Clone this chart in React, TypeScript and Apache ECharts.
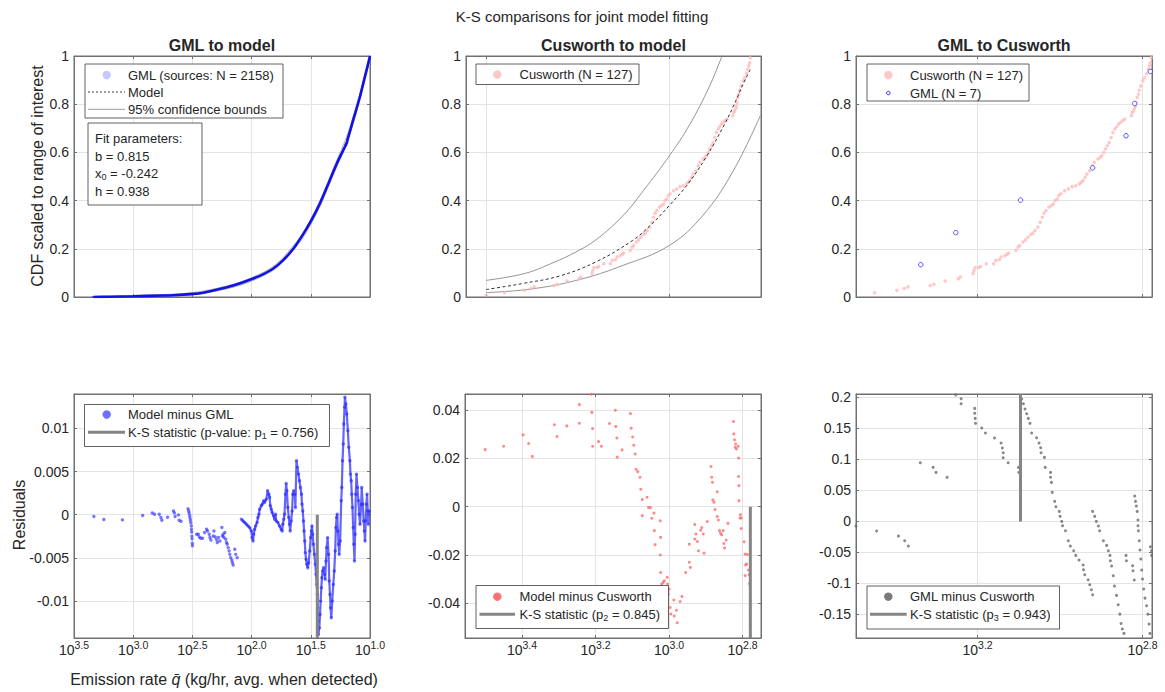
import React, { useEffect, useRef } from 'react';
import * as echarts from 'echarts';

const FONT = '"Liberation Sans", Arial, Helvetica, sans-serif';
const TXT = '#262626';
const AXIS_C = '#707070';
const GRID_C = '#e4e4e4';

// ---------- axis ranges and ticks (log10 of emission rate, reversed axes) ----------
const xRangeCol = [[1.0, 3.5], [2.75, 3.555], [2.777, 3.495]];
const xTicksTop = [[1.0, 1.5, 2.0, 2.5, 3.0, 3.5], [3.0, 3.5], [2.8, 3.2]];
const xTicksBottom = [[1.0, 1.5, 2.0, 2.5, 3.0, 3.5], [2.8, 3.0, 3.2, 3.4], [2.8, 3.2]];
const yRanges = [[0, 1], [0, 1], [0, 1], [-0.0143, 0.014], [-0.0543, 0.0466], [-0.188, 0.2054]];
const yTicks = [
  [0, 0.2, 0.4, 0.6, 0.8, 1],
  [0, 0.2, 0.4, 0.6, 0.8, 1],
  [0, 0.2, 0.4, 0.6, 0.8, 1],
  [-0.01, -0.005, 0, 0.005, 0.01],
  [-0.04, -0.02, 0, 0.02, 0.04],
  [-0.15, -0.1, -0.05, 0, 0.05, 0.1, 0.15, 0.2],
];

// ---------- Panel 1: GML to model ----------
const gmlCdf = [[3.337, 0.0], [3.2, 0.001], [3.0, 0.003], [2.75, 0.006], [2.661, 0.007], [2.49, 0.013], [2.408, 0.018], [2.323, 0.027], [2.155, 0.048], [1.986, 0.077], [1.9, 0.095], [1.817, 0.118], [1.733, 0.153], [1.648, 0.2], [1.563, 0.262], [1.493, 0.32], [1.422, 0.389], [1.352, 0.47], [1.281, 0.553], [1.22, 0.615], [1.197, 0.638], [1.185, 0.66], [1.141, 0.736], [1.084, 0.833], [1.042, 0.917], [1.0, 1.0]];
const model1 = [[3.35, 0.0005], [3.0, 0.003], [2.5, 0.013], [2.2, 0.041], [2.0, 0.073], [1.8, 0.125], [1.6, 0.232], [1.5, 0.313], [1.4, 0.412], [1.3, 0.532], [1.2, 0.648], [1.1, 0.805], [1.0, 0.99]];
const upper1 = [[3.35, 0.002], [3.0, 0.006], [2.5, 0.018], [2.2, 0.047], [2.0, 0.08], [1.8, 0.133], [1.6, 0.242], [1.5, 0.324], [1.4, 0.424], [1.3, 0.545], [1.2, 0.662], [1.1, 0.818], [1.0, 1.0]];
const lower1 = [[3.35, 0.0], [3.0, 0.001], [2.5, 0.009], [2.2, 0.035], [2.0, 0.066], [1.8, 0.117], [1.6, 0.222], [1.5, 0.302], [1.4, 0.4], [1.3, 0.519], [1.2, 0.634], [1.1, 0.792], [1.0, 0.98]];

// ---------- Panel 2: Cusworth to model ----------
const model2 = [[3.5, 0.031], [3.45, 0.043], [3.4, 0.056], [3.3, 0.087], [3.2, 0.146], [3.1, 0.235], [3.05, 0.3], [3.0, 0.38], [2.95, 0.468], [2.9, 0.58], [2.85, 0.715], [2.82, 0.81], [2.8, 0.88], [2.779, 0.945]];
const upper2 = [[3.5, 0.069], [3.396, 0.097], [3.324, 0.138], [3.251, 0.19], [3.197, 0.241], [3.125, 0.34], [3.071, 0.441], [3.0, 0.586], [2.944, 0.717], [2.89, 0.876], [2.858, 0.993], [2.853, 1.01]];
const lower2 = [[3.5, 0.018], [3.378, 0.033], [3.251, 0.07], [3.125, 0.132], [3.0, 0.214], [2.908, 0.34], [2.827, 0.52], [2.752, 0.752]];
const cusworthCdf = [[3.5, 0.007], [3.45, 0.018], [3.396, 0.028], [3.378, 0.035], [3.369, 0.042], [3.315, 0.048], [3.306, 0.053], [3.279, 0.066], [3.247, 0.076], [3.242, 0.083], [3.211, 0.097], [3.209, 0.11], [3.206, 0.122], [3.197, 0.122], [3.193, 0.127], [3.179, 0.138], [3.161, 0.138], [3.156, 0.152], [3.147, 0.155], [3.143, 0.166], [3.134, 0.171], [3.129, 0.177], [3.125, 0.182], [3.107, 0.193], [3.102, 0.207], [3.098, 0.214], [3.09, 0.228], [3.084, 0.237], [3.078, 0.248], [3.071, 0.259], [3.066, 0.265], [3.061, 0.276], [3.054, 0.29], [3.048, 0.31], [3.043, 0.331], [3.039, 0.348], [3.034, 0.359], [3.027, 0.373], [3.021, 0.38], [3.016, 0.386], [3.012, 0.4], [3.007, 0.407], [3.003, 0.421], [2.998, 0.428], [2.989, 0.441], [2.98, 0.448], [2.971, 0.458], [2.962, 0.462], [2.953, 0.469], [2.949, 0.476], [2.944, 0.483], [2.939, 0.497], [2.935, 0.51], [2.928, 0.524], [2.921, 0.545], [2.917, 0.559], [2.908, 0.573], [2.903, 0.579], [2.899, 0.586], [2.894, 0.6], [2.89, 0.614], [2.885, 0.628], [2.881, 0.641], [2.876, 0.662], [2.872, 0.683], [2.867, 0.697], [2.863, 0.706], [2.858, 0.717], [2.854, 0.724], [2.849, 0.731], [2.843, 0.738], [2.827, 0.752], [2.825, 0.766], [2.822, 0.772], [2.819, 0.783], [2.817, 0.793], [2.816, 0.807], [2.813, 0.828], [2.81, 0.841], [2.808, 0.858], [2.804, 0.876], [2.799, 0.897], [2.795, 0.91], [2.79, 0.927], [2.786, 0.945], [2.783, 0.959], [2.781, 0.972], [2.779, 0.993]];

// ---------- Panel 3: GML to Cusworth ----------
const gml7Cdf = [[3.338, 0.134], [3.253, 0.267], [3.096, 0.402], [2.921, 0.536], [2.84, 0.669], [2.819, 0.803], [2.781, 0.936]];

// ---------- Panel 4: Model minus GML ----------
const residModelGml = [[3.332, -0.00021], [3.248, -0.00056], [3.091, -0.0006], [2.92, -0.0001], [2.839, 0.0002], [2.82, 0.00006], [2.78, 0.00006], [2.766, -0.00033], [2.758, -0.00064], [2.71, -0.00029], [2.66, 0.00044], [2.652, 0.00021], [2.646, -0.00021], [2.618, -0.00002], [2.612, -0.00064], [2.596, -0.00076], [2.537, 0.00068], [2.531, 0.00044], [2.528, 0.00021], [2.523, -0.0001], [2.52, -0.00037], [2.517, -0.00064], [2.514, -0.00095], [2.509, -0.0013], [2.508, -0.0017], [2.506, -0.002], [2.504, -0.0025], [2.503, -0.0028], [2.501, -0.0033], [2.5, -0.0036],
  [2.464, -0.00227], [2.45, -0.00227], [2.442, -0.00258], [2.43, -0.00273], [2.414, -0.00273], [2.397, -0.00207], [2.38, -0.00169], [2.372, -0.00188], [2.358, -0.00227], [2.352, -0.00265], [2.344, -0.00293], [2.324, -0.00247], [2.318, -0.00188], [2.307, -0.00258], [2.296, -0.00289], [2.29, -0.00323], [2.279, -0.00265], [2.268, -0.00305], [2.251, -0.00149], [2.246, -0.00247], [2.24, -0.00227], [2.234, -0.00265], [2.226, -0.00207], [2.218, -0.00285], [2.212, -0.00323], [2.206, -0.00343], [2.198, -0.00382], [2.19, -0.00421], [2.184, -0.0046], [2.176, -0.00498], [2.167, -0.00529], [2.162, -0.00556], [2.156, -0.00584], [2.142, -0.00401], [2.134, -0.0046], [2.122, -0.00498],
  [2.086, -0.00052], [2.072, -0.00072], [2.058, -0.00091], [2.044, -0.00111], [2.03, -0.0013], [2.016, -0.0015], [2.002, -0.00189], [1.996, -0.00266], [1.988, -0.00305], [1.982, -0.00227], [1.974, -0.00169], [1.966, -0.0013], [1.954, -0.00091], [1.946, -0.00033], [1.938, 0.00006], [1.932, 0.00064], [1.918, 0.00103], [1.91, 0.00122], [1.898, 0.00161], [1.89, 0.00141], [1.876, 0.0018], [1.865, 0.00277], [1.854, 0.00238], [1.848, 0.002], [1.842, 0.00103], [1.834, 0.00064], [1.826, 0.00025], [1.814, -0.00014], [1.806, -0.00052], [1.798, 0.00006], [1.792, -0.00072], [1.778, -0.00091], [1.764, -0.0013], [1.75, -0.00169], [1.742, -0.00189], [1.736, -0.00111], [1.728, -0.00052], [1.722, 0.00006], [1.714, 0.00238], [1.708, 0.00362], [1.702, 0.00277], [1.694, 0.00083], [1.686, -0.00033], [1.68, -0.00111], [1.674, -0.00189], [1.666, -0.00072], [1.658, 0.00044], [1.652, 0.00238], [1.644, 0.00277], [1.635, 0.00238], [1.63, 0.00083], [1.621, 0.00626], [1.613, 0.00549], [1.604, 0.00471], [1.596, 0.00393], [1.588, 0.00316], [1.579, 0.00238], [1.574, 0.00122], [1.568, 0.00044], [1.562, -0.00072], [1.557, -0.00189], [1.551, -0.00305], [1.546, -0.0044], [1.54, -0.00518], [1.534, -0.00576], [1.526, -0.00615], [1.518, -0.00557], [1.509, -0.00421], [1.501, -0.00266], [1.495, -0.00189], [1.49, -0.0013], [1.484, -0.00227], [1.478, -0.00343], [1.47, -0.0046], [1.462, -0.00576], [1.456, -0.00692], [1.45, -0.00809], [1.445, -0.00925], [1.442, -0.0108], [1.439, -0.01235], [1.436, -0.0139], [1.428, -0.01313], [1.422, -0.01158], [1.417, -0.01002], [1.411, -0.00847], [1.406, -0.00731], [1.4, -0.00653], [1.392, -0.00615], [1.383, -0.00692], [1.378, -0.0075], [1.372, -0.00537], [1.366, -0.00382], [1.358, -0.00266], [1.35, -0.0046], [1.344, -0.0077], [1.338, -0.00925], [1.333, -0.0108], [1.327, -0.01196], [1.319, -0.01002], [1.31, -0.00809], [1.302, -0.00653], [1.294, -0.00421], [1.288, -0.0015], [1.282, -0.00033], [1.277, 0.00006], [1.271, -0.00189], [1.266, -0.00343], [1.26, -0.0046], [1.252, -0.00305], [1.243, 0.00161], [1.238, 0.00316], [1.232, 0.00626], [1.226, 0.0082], [1.221, 0.01052], [1.215, 0.01246], [1.212, 0.01363], [1.204, 0.01285], [1.196, 0.01169], [1.187, 0.00975], [1.179, 0.00781], [1.17, 0.00626], [1.165, 0.00471], [1.159, 0.00393], [1.154, 0.00238], [1.148, 0.00083], [1.142, -0.0015], [1.137, -0.00343], [1.131, -0.00537], [1.126, -0.00227], [1.12, 0.00238], [1.114, 0.00471], [1.106, 0.00316], [1.098, 0.00161], [1.092, 0.00006], [1.084, -0.00111], [1.075, 0.00122], [1.07, 0.00316], [1.061, 0.00122], [1.053, -0.00072], [1.047, -0.00189], [1.042, -0.00305], [1.036, -0.00072], [1.03, 0.00122], [1.025, 0.00238], [1.019, 0.00044], [1.014, -0.00111], [1.008, 0.00044]];
const ks1 = [[1.445, 0], [1.445, -0.0143]];

// ---------- Panel 5: Model minus Cusworth ----------
const residModelCus = [[3.5, 0.0236], [3.45, 0.025], [3.397, 0.0297], [3.382, 0.0261], [3.372, 0.0208], [3.312, 0.0339], [3.305, 0.029], [3.278, 0.0334], [3.244, 0.0422], [3.244, 0.0345], [3.211, 0.0465], [3.21, 0.039], [3.208, 0.0323], [3.208, 0.025], [3.192, 0.0269], [3.184, 0.025], [3.162, 0.0344],
  [3.146, 0.0399], [3.145, 0.0332], [3.142, 0.0284], [3.141, 0.0205], [3.128, 0.0235], [3.105, 0.0385], [3.103, 0.0324], [3.099, 0.0288], [3.096, 0.0254], [3.092, 0.0218], [3.09, 0.0155], [3.085, 0.0145], [3.079, 0.0122], [3.077, 0.0072], [3.073, 0.003], [3.073, -0.0037], [3.06, 0.0039], [3.056, -0.0003], [3.051, -0.0003], [3.047, -0.0048], [3.041, -0.0026], [3.04, -0.0099], [3.038, -0.0157], [3.024, -0.0058], [3.023, -0.0127], [3.024, -0.02], [3.023, -0.0272], [3.02, -0.032], [3.016, -0.0313], [3.013, -0.0306], [3.005, -0.0292], [3.004, -0.032], [3.0, -0.0341], [3.002, -0.0361], [2.997, -0.0417], [2.995, -0.0444], [2.987, -0.0386], [2.986, -0.0452], [2.98, -0.0428], [2.978, -0.048], [2.97, -0.0392], [2.965, -0.0371], [2.955, -0.0272], [2.945, -0.023], [2.942, -0.0251], [2.945, -0.0155], [2.93, -0.0134], [2.93, -0.0074], [2.927, -0.0113], [2.923, -0.0144], [2.92, -0.0182], [2.914, -0.0097], [2.911, -0.0086], [2.907, -0.0113], [2.905, -0.0192], [2.896, -0.0061], [2.886, 0.0166], [2.884, 0.0122], [2.882, 0.0101], [2.869, 0.0062], [2.881, 0.0028], [2.878, 0.0018], [2.875, -0.0012], [2.869, -0.0041], [2.866, -0.0055], [2.863, -0.0099], [2.86, -0.011], [2.857, -0.0116], [2.853, -0.0099], [2.851, -0.0152], [2.849, -0.0171], [2.845, -0.0138], [2.84, -0.0069], [2.825, 0.0352], [2.824, 0.0301], [2.822, 0.0277], [2.819, 0.0259], [2.82, 0.0246], [2.817, 0.0239], [2.812, 0.025], [2.811, 0.0201], [2.811, 0.0125], [2.81, 0.0087], [2.81, 0.0025], [2.806, -0.0033], [2.807, -0.0047], [2.804, -0.0047], [2.804, -0.009], [2.796, -0.0145], [2.793, -0.0196], [2.792, -0.0241], [2.789, -0.0237], [2.787, -0.0198], [2.793, -0.0285], [2.784, -0.0262], [2.782, -0.0281], [2.781, -0.0317], [2.78, -0.0323], [2.779, -0.0389], [2.779, -0.0428], [2.779, -0.0487], [2.779, -0.0536]];
const ks2 = [[2.779, 0], [2.779, -0.0543]];

// ---------- Panel 6: GML minus Cusworth ----------
const residGmlCus = [[3.495, -0.0075], [3.445, -0.0156], [3.392, -0.0237], [3.377, -0.0312], [3.368, -0.0398], [3.339, 0.0946], [3.308, 0.0871], [3.301, 0.079], [3.274, 0.071], [3.253, 0.204], [3.24, 0.1978], [3.24, 0.1898], [3.207, 0.1822], [3.207, 0.1742], [3.206, 0.1661], [3.205, 0.1581], [3.19, 0.1505], [3.181, 0.1425], [3.159, 0.1344], [3.143, 0.1263], [3.14, 0.1183], [3.138, 0.1107], [3.138, 0.1027], [3.126, 0.0946], [3.101, 0.0871], [3.1, 0.079], [3.096, 0.071], [3.093, 0.1973], [3.089, 0.1898], [3.085, 0.1812], [3.081, 0.1736], [3.077, 0.1661], [3.073, 0.1581], [3.069, 0.1425], [3.057, 0.1349], [3.051, 0.1263], [3.047, 0.1188], [3.046, 0.1107], [3.038, 0.1032], [3.036, 0.0871], [3.023, 0.079], [3.023, 0.071], [3.021, 0.0629], [3.019, 0.0468], [3.013, 0.0323], [3.01, 0.0237], [3.002, 0.0161], [3.0, 0.0081], [2.996, 0.0], [2.994, -0.007], [2.987, -0.0151], [2.98, -0.0312], [2.975, -0.0398], [2.967, -0.0473], [2.962, -0.0548], [2.954, -0.0624], [2.944, -0.0704], [2.943, -0.078], [2.94, -0.086], [2.932, -0.0941], [2.928, -0.1021], [2.924, -0.1102], [2.921, -0.1183], [2.921, 0.0161], [2.916, 0.0081], [2.912, 0.0], [2.907, -0.0075], [2.904, -0.0151], [2.895, -0.0312], [2.887, -0.0387], [2.883, -0.0473], [2.879, -0.0548], [2.878, -0.0634], [2.875, -0.072], [2.871, -0.0876], [2.868, -0.1043], [2.863, -0.1193], [2.859, -0.1344], [2.855, -0.1495], [2.852, -0.1645], [2.849, -0.1736], [2.845, -0.1806], [2.84, -0.0548], [2.839, -0.0634], [2.824, -0.0715], [2.823, -0.0796], [2.82, -0.0946], [2.819, 0.0409], [2.817, 0.0323], [2.815, 0.0247], [2.813, 0.0161], [2.811, 0.0022], [2.811, -0.007], [2.81, -0.0151], [2.808, -0.0312], [2.806, -0.0462], [2.804, -0.0608], [2.802, -0.0785], [2.8, -0.093], [2.797, -0.1091], [2.794, -0.1237], [2.79, -0.136], [2.787, -0.1495], [2.784, -0.1656], [2.782, -0.1806], [2.781, -0.0409], [2.778, -0.0473], [2.778, -0.0548]];
const ks3 = [[3.096, 0], [3.096, 0.2054]];

// ---------- layout ----------
const grids = [
  { left: 74, top: 56, width: 296, height: 241 },
  { left: 466, top: 56, width: 295, height: 241 },
  { left: 856, top: 56, width: 296, height: 241 },
  { left: 74, top: 394, width: 296, height: 244 },
  { left: 465, top: 394, width: 296, height: 244 },
  { left: 856, top: 394, width: 296, height: 244 },
];

const fmtY = (v: number) => String(parseFloat(Number(v).toFixed(4)));

function buildOption() {
  const xAxes: any[] = [];
  const yAxes: any[] = [];
  for (let i = 0; i < 6; i++) {
    const col = i % 3;
    const bottom = i >= 3;
    const ticks = bottom ? xTicksBottom[col] : xTicksTop[col];
    const [xmin, xmax] = xRangeCol[col];
    xAxes.push({
      type: 'value', gridIndex: i, min: xmin, max: xmax, inverse: true, position: 'bottom',
      axisLine: { show: true, onZero: false, lineStyle: { color: AXIS_C, width: 1 } },
      axisTick: { show: true, inside: true, length: 3, customValues: ticks, lineStyle: { color: AXIS_C } },
      axisLabel: {
        show: bottom, customValues: ticks, margin: 1, color: TXT, fontFamily: FONT,
        formatter: (v: number) => `{b|10}{s|${Number(v).toFixed(1)}}`,
        rich: {
          b: { fontSize: 14, lineHeight: 15, padding: [6, 0, 0, 0], fontFamily: FONT, color: TXT },
          s: { fontSize: 10.5, lineHeight: 11, verticalAlign: 'top', fontFamily: FONT, color: TXT },
        },
      },
      splitLine: { show: true, lineStyle: { color: GRID_C, width: 1 } },
    });
    const [ymin, ymax] = yRanges[i];
    yAxes.push({
      type: 'value', gridIndex: i, min: ymin, max: ymax, position: 'left',
      axisLine: { show: true, onZero: false, lineStyle: { color: AXIS_C, width: 1 } },
      axisTick: { show: true, inside: true, length: 3, customValues: yTicks[i], lineStyle: { color: AXIS_C } },
      axisLabel: { show: true, customValues: yTicks[i], margin: 5, color: TXT, fontFamily: FONT, fontSize: 14, formatter: fmtY },
      splitLine: { show: true, lineStyle: { color: GRID_C, width: 1 } },
    });
  }
  // mirror axes (top / right ticks, like a boxed axes)
  for (let i = 0; i < 6; i++) {
    const col = i % 3;
    const bottom = i >= 3;
    const ticks = bottom ? xTicksBottom[col] : xTicksTop[col];
    const [xmin, xmax] = xRangeCol[col];
    xAxes.push({
      type: 'value', gridIndex: i, min: xmin, max: xmax, inverse: true, position: 'top',
      axisLine: { show: true, onZero: false, lineStyle: { color: AXIS_C, width: 1 } },
      axisTick: { show: true, inside: true, length: 3, customValues: ticks, lineStyle: { color: AXIS_C } },
      axisLabel: { show: false }, splitLine: { show: false },
    });
    const [ymin, ymax] = yRanges[i];
    yAxes.push({
      type: 'value', gridIndex: i, min: ymin, max: ymax, position: 'right',
      axisLine: { show: true, onZero: false, lineStyle: { color: AXIS_C, width: 1 } },
      axisTick: { show: true, inside: true, length: 3, customValues: yTicks[i], lineStyle: { color: AXIS_C } },
      axisLabel: { show: false }, splitLine: { show: false },
    });
  }

  const line = (idx: number, data: number[][], color: string, width: number, type: any = 'solid', z = 2, opacity = 1, smooth: any = false) => ({
    type: 'line', xAxisIndex: idx, yAxisIndex: idx, data, symbol: 'none', showSymbol: false, smooth,
    lineStyle: { color, width, type, opacity }, silent: true, z, clip: true, animation: false,
  });
  const scatter = (idx: number, data: number[][], itemStyle: any, size: number, symbol = 'circle', z = 3) => ({
    type: 'scatter', xAxisIndex: idx, yAxisIndex: idx, data, symbol, symbolSize: size,
    itemStyle, silent: true, z, clip: true, animation: false,
  });

  const denseGml = residModelGml.filter((p) => p[0] < 2.1);

  const series: any[] = [
    // panel 1
    line(0, upper1, '#9a9a9a', 0.8, 'solid', 2, 1, 0.3),
    line(0, lower1, '#9a9a9a', 0.8, 'solid', 2, 1, 0.3),
    line(0, model1, '#404040', 1, [3, 2], 2, 1, 0.3),
    line(0, gmlCdf, '#1212e6', 2.6, 'solid', 3, 1, 0.2),
    // panel 2
    line(1, upper2, '#7a7a7a', 0.8, 'solid', 2, 1, 0.4),
    line(1, lower2, '#7a7a7a', 0.8, 'solid', 2, 1, 0.4),
    scatter(1, cusworthCdf, { color: '#ffbaba' }, 3.5, 'circle', 3),
    line(1, model2, '#303030', 1, [3, 2.5], 4, 1, 0.4),
    // panel 3
    scatter(2, cusworthCdf, { color: '#ffbaba' }, 3.5, 'circle', 3),
    scatter(2, gml7Cdf, { color: '#ffffff', borderColor: '#2a2aff', borderWidth: 1 }, 4.5, 'circle', 4),
    // panel 4
    line(3, denseGml, '#2222ff', 2.2, 'solid', 3, 0.7),
    scatter(3, residModelGml, { color: 'rgba(40,40,255,0.8)' }, 3.4, 'circle', 3),
    line(3, ks1, '#858585', 3, 'solid', 5),
    // panel 5
    scatter(4, residModelCus, { color: '#ff6a6a' }, 3, 'circle', 3),
    line(4, ks2, '#858585', 3, 'solid', 5),
    // panel 6
    scatter(5, residGmlCus, { color: '#6a6a6a' }, 3, 'circle', 3),
    line(5, ks3, '#858585', 3, 'solid', 5),
  ];

  const txt = (x: number, y: number, text: string, size = 13, opts: any = {}) => ({
    type: 'text', x, y, z: 100, rotation: opts.rotation || 0, silent: true,
    style: {
      text, font: `${opts.bold ? 'bold ' : ''}${size}px ${FONT}`, fill: TXT,
      textAlign: opts.align || 'left', textVerticalAlign: opts.valign || 'middle',
      align: opts.align || 'left', verticalAlign: opts.valign || 'middle',
      rich: opts.rich,
    },
  });
  const box = (x: number, y: number, w: number, h: number) => ({
    type: 'rect', z: 90, silent: true, shape: { x, y, width: w, height: h },
    style: { fill: '#ffffff', stroke: '#3a3a3a', lineWidth: 0.8 },
  });
  const dot = (cx: number, cy: number, r: number, fill: string, stroke?: string) => ({
    type: 'circle', z: 100, silent: true, shape: { cx, cy, r },
    style: { fill, stroke: stroke || null, lineWidth: stroke ? 1 : 0 },
  });
  const seg = (x1: number, x2: number, y: number, stroke: string, w: number, dash?: number[]) => ({
    type: 'line', z: 100, silent: true, shape: { x1, y1: y, x2, y2: y },
    style: { stroke, lineWidth: w, lineDash: dash || null },
  });
  const subRich = () => ({ sub: { fontSize: 9, padding: [7, 0, 0, 0], fontFamily: FONT, fill: TXT, color: TXT } });

  const graphic: any[] = [
    txt(582, 16, 'K-S comparisons for joint model fitting', 15, { align: 'center' }),
    txt(222, 45, 'GML to model', 16, { align: 'center', bold: true }),
    txt(613.5, 45, 'Cusworth to model', 16, { align: 'center', bold: true }),
    txt(1004, 45, 'GML to Cusworth', 16, { align: 'center', bold: true }),
    txt(37, 176, 'CDF scaled to range of interest', 16, { align: 'center', rotation: Math.PI / 2 }),
    txt(19, 515, 'Residuals', 16, { align: 'center', rotation: Math.PI / 2 }),
    txt(224, 679, 'Emission rate {q|q̄} (kg/hr, avg. when detected)', 16, {
      align: 'center', rich: { q: { fontSize: 16, fontStyle: 'italic', fontFamily: FONT, fill: TXT, color: TXT } },
    }),
    // legend panel 1
    box(85, 64, 198, 54),
    dot(106.7, 75, 4.2, '#c8c8ff'),
    txt(128, 75, 'GML (sources: N = 2158)'),
    seg(88, 125, 92, '#404040', 1, [2, 2]),
    txt(128, 92, 'Model'),
    seg(88, 125, 109.3, '#9a9a9a', 1),
    txt(128, 109.3, '95% confidence bounds'),
    // fit parameters
    box(88, 123, 114, 82),
    txt(95, 138.5, 'Fit parameters:'),
    txt(95, 156, 'b = 0.815'),
    txt(95, 173.5, 'x{sub|0} = -0.242', 13, { rich: subRich() }),
    txt(95, 191.5, 'h = 0.938'),
    // legend panel 2
    box(476, 64, 163, 20.5),
    dot(497.3, 74.5, 4.2, '#ffc8c8'),
    txt(519.5, 74.5, 'Cusworth (N = 127)'),
    // legend panel 3
    box(867, 64, 162, 37),
    dot(888.3, 75, 4.2, '#ffc8c8'),
    txt(910, 75, 'Cusworth (N = 127)'),
    dot(888.3, 93, 1.8, '#ffffff', '#2a2aff'),
    txt(910, 93, 'GML (N = 7)'),
    // legend panel 4
    box(84.5, 404.5, 245, 42),
    dot(106.7, 414.5, 4.2, '#7070ff'),
    txt(128, 414.5, 'Model minus GML'),
    seg(88, 125, 432.3, '#858585', 3),
    txt(128, 432.3, 'K-S statistic (p-value: p{sub|1} = 0.756)', 13, { rich: subRich() }),
    // legend panel 5
    box(476, 585.5, 192.5, 43),
    dot(497.3, 596.7, 4.2, '#ff7070'),
    txt(519.5, 596.7, 'Model minus Cusworth'),
    seg(479.5, 515, 614.3, '#858585', 3),
    txt(519.5, 614.3, 'K-S statistic (p{sub|2} = 0.845)', 13, { rich: subRich() }),
    // legend panel 6
    box(867, 586, 192.5, 43),
    dot(888.3, 596.7, 4.2, '#7a7a7a'),
    txt(910, 596.7, 'GML minus Cusworth'),
    seg(870, 906.7, 614.3, '#858585', 3),
    txt(910, 614.3, 'K-S statistic (p{sub|3} = 0.943)', 13, { rich: subRich() }),
  ];

  return {
    animation: false,
    backgroundColor: '#ffffff',
    textStyle: { fontFamily: FONT },
    grid: grids.map((g) => ({ ...g, show: true, borderColor: AXIS_C, borderWidth: 1, backgroundColor: 'transparent', containLabel: false })),
    xAxis: xAxes,
    yAxis: yAxes,
    series,
    graphic,
  };
}

export default function App() {
  const ref = useRef<HTMLDivElement>(null);
  useEffect(() => {
    if (!ref.current) return;
    const chart = echarts.init(ref.current, null, { renderer: 'svg' });
    chart.setOption(buildOption() as any);
    return () => chart.dispose();
  }, []);
  return (
    <div
      ref={ref}
      style={{ position: 'fixed', left: 0, top: 0, width: 1165, height: 692, background: '#fff' }}
    />
  );
}
